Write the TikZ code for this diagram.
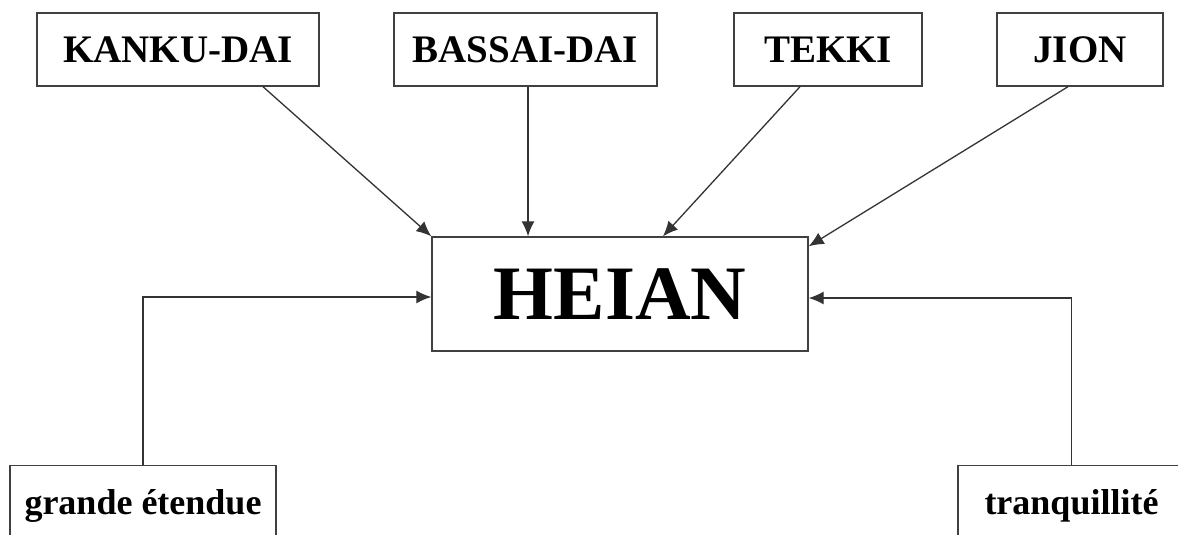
\documentclass[tikz,border=0pt]{standalone}
\usepackage{fontspec}
\setmainfont{Liberation Serif}
\usetikzlibrary{arrows.meta,calc}
\tikzset{
  box/.style={draw=black!75, line width=1.4pt, inner sep=0pt, fill=white},
  topbox/.style={box, minimum height=73pt, text height=26pt, text depth=0pt,
    font=\fontsize{39}{40}\selectfont\bfseries},
  botbox/.style={box, anchor=north, inner ysep=0pt, text height=49pt, text depth=50pt,
    font=\fontsize{36}{38}\selectfont\bfseries},
  arr/.style={draw=black!80, line width=1.3pt, -{Latex[length=15pt,width=13pt]}},
}
\begin{document}
\begin{tikzpicture}[x=1pt,y=-1pt]
\useasboundingbox (0,0) rectangle (1178,535);
\clip (0,0) rectangle (1178,535);
\fill[white] (0,0) rectangle (1178,535);
\node[topbox, minimum width=282pt] (kanku) at (178,49.5) {KANKU-DAI};
\node[topbox, minimum width=263pt] (bassai) at (525.5,49.5) {BASSAI-DAI};
\node[topbox, minimum width=188pt] (tekki) at (828,49.5) {TEKKI};
\node[topbox, minimum width=166pt] (jion) at (1080,49.5) {JION};
\node[box, minimum width=376pt, minimum height=114pt, text height=51pt, text depth=0pt,
  font=\fontsize{77}{80}\selectfont\bfseries] (heian) at (620,294) {HEIAN};
\node[botbox, minimum width=266pt] (ge) at (143,465) {grande étendue};
\node[botbox, minimum width=227pt] (tq) at (1071.5,465) {tranquillité};
\draw[arr] ([xshift=85pt]kanku.south) -- (heian.north west);
\draw[arr] ([xshift=2.5pt]bassai.south) coordinate (b1) -- (b1 |- heian.north);
\draw[arr] ([xshift=-28pt]tekki.south) -- ([xshift=43pt]heian.north);
\draw[arr] ([xshift=-12pt]jion.south) -- ($(heian.north east)+(0,10)$);
\draw[arr] (ge.north) |- ($(heian.west)+(0,3)$);
\draw[arr] (tq.north) |- ($(heian.east)+(0,4)$);
\end{tikzpicture}
\end{document}
